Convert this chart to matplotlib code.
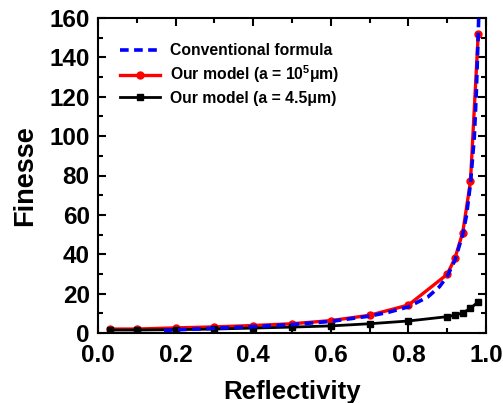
import numpy as np
import matplotlib
matplotlib.use("Agg")
import matplotlib.pyplot as plt
from matplotlib.ticker import MultipleLocator

plt.rcParams["font.family"] = ["Liberation Sans", "DejaVu Sans"]
plt.rcParams["font.weight"] = "bold"
plt.rcParams["mathtext.fontset"] = "custom"
plt.rcParams["mathtext.rm"] = "Liberation Sans:bold"
plt.rcParams["mathtext.bf"] = "Liberation Sans:bold"

# --- data ---
conv_R = [0.17, 0.2, 0.3, 0.4, 0.5, 0.6, 0.7, 0.75, 0.8, 0.85, 0.88, 0.9,
          0.92, 0.94, 0.95, 0.96, 0.97, 0.975, 0.98, 0.982]
conv_F = [1.2, 1.6, 2.4, 3.2, 4.3, 5.9, 8.6, 10.6, 13.3, 18.3, 23.5, 28.8,
          37.0, 50.0, 60.0, 76.0, 100.0, 122.0, 152.0, 166.0]

model_R = [0.03, 0.1, 0.2, 0.3, 0.4, 0.5, 0.6, 0.7, 0.8, 0.9, 0.92, 0.94, 0.96, 0.98]
big_a_F = [2.0, 2.0, 2.6, 3.1, 3.8, 4.7, 6.3, 9.0, 14.2, 29.8, 38.0, 51.0, 77.0, 152.0]
small_a_F = [1.5, 1.5, 1.7, 2.0, 2.5, 3.0, 3.6, 4.7, 6.1, 8.3, 9.1, 10.2, 12.5, 15.9]

fig = plt.figure(figsize=(5.03, 4.03), dpi=100)
ax = fig.add_axes([98 / 503, 1 - 333 / 403, 388 / 503, 315 / 403])

ax.plot(conv_R, conv_F, color="blue", linestyle=(0, (2.4, 1.5)), linewidth=2.6,
        label="Conventional formula", zorder=3)
ax.plot(model_R, big_a_F, color="red", marker="o", markersize=5, linewidth=2.4,
        label=r"Our model (a = 10$^{5}$μm)", zorder=2)
ax.plot(model_R, small_a_F, color="black", marker="s", markersize=4.5, linewidth=2.0,
        label="Our model (a = 4.5μm)", zorder=2)

ax.set_xlim(0.0, 1.0)
ax.set_ylim(0, 160)
ax.xaxis.set_major_locator(MultipleLocator(0.2))
ax.xaxis.set_minor_locator(MultipleLocator(0.1))
ax.yaxis.set_major_locator(MultipleLocator(20))
ax.yaxis.set_minor_locator(MultipleLocator(10))
ax.xaxis.set_major_formatter(plt.FuncFormatter(lambda v, p: f"{v:.1f}"))
ax.tick_params(which="both", direction="in", top=True, right=True, width=1.5)
ax.tick_params(which="major", length=6, labelsize=17.5)
ax.tick_params(which="minor", length=3.5)
ax.tick_params(axis="x", which="major", pad=8)
ax.tick_params(axis="y", which="major", pad=6)
for s in ax.spines.values():
    s.set_linewidth(1.5)

ax.set_xlabel("Reflectivity", fontsize=18.5, fontweight="bold", labelpad=9)
ax.set_ylabel("Finesse", fontsize=19.5, fontweight="bold", labelpad=8)

ax.legend(loc="upper left", bbox_to_anchor=(0.02, 0.965), frameon=False,
          handlelength=2.55, handletextpad=0.65, labelspacing=0.35,
          prop={"weight": "bold", "size": 11.3})

fig.savefig("out.png", dpi=100)
